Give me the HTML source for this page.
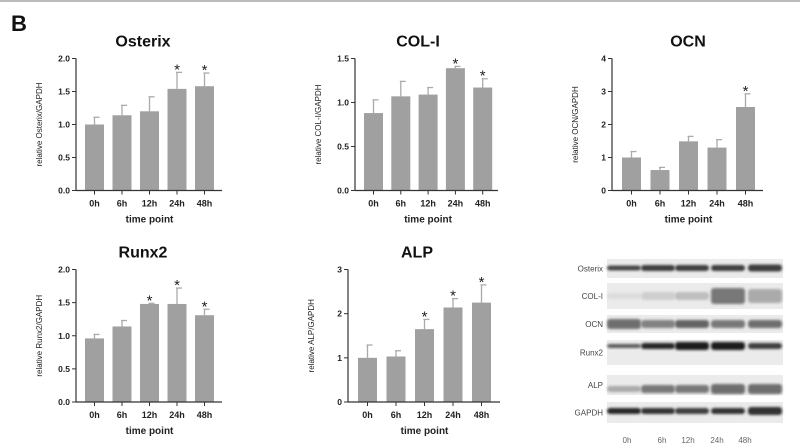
<!DOCTYPE html>
<html><head><meta charset="utf-8"><style>
html,body{margin:0;padding:0;background:#fff;}
svg{display:block;font-family:"Liberation Sans",Arial,sans-serif;}
</style></head><body>
<svg id="s" width="800" height="447" viewBox="0 0 800 447" xmlns="http://www.w3.org/2000/svg">
<defs>
<filter id="bl" x="-20%" y="-50%" width="140%" height="200%"><feGaussianBlur stdDeviation="1.3"/></filter>
</defs>
<line x1="0" y1="1" x2="800" y2="1" stroke="#bbb" stroke-width="2"/>
<text x="11" y="31" font-size="22" font-weight="bold" fill="#111">B</text>
</svg>
<script>
const s=document.getElementById('s');
const NS='http://www.w3.org/2000/svg';
function el(t,a,txt){const e=document.createElementNS(NS,t);for(const k in a)e.setAttribute(k,a[k]);if(txt!==undefined)e.textContent=txt;s.appendChild(e);return e;}
function chart(o){
 const {ax,yTop,y0,xEnd,max,ticks,fmt,vals,errs,stars,title,ylab,b0,sp,tx}=o;
 const sc=(y0-yTop)/max;
 el('text',{x:tx,y:yTop-12,'font-size':16,'font-weight':'bold','text-anchor':'middle',fill:'#111'},title);
 vals.forEach((v,i)=>{
  const x=b0+i*sp, w=19, top=y0-v*sc, et=y0-(v+errs[i])*sc, cx=x+w/2;
  el('line',{x1:cx,y1:top,x2:cx,y2:et,stroke:'#aaa','stroke-width':1.3});
  el('line',{x1:cx-1,y1:et,x2:cx+5,y2:et,stroke:'#aaa','stroke-width':1.3});
  el('rect',{x:x,y:top,width:w,height:y0-top,fill:'#a0a0a0'});
  if(stars[i])el('text',{x:cx,y:et+2,'font-size':15,'text-anchor':'middle',fill:'#222'},'*');
  el('line',{x1:cx,y1:y0,x2:cx,y2:y0+4,stroke:'#333','stroke-width':1});
  el('text',{x:cx,y:y0+16,'font-size':9,'font-weight':'bold','text-anchor':'middle',fill:'#222'},['0h','6h','12h','24h','48h'][i]);
 });
 el('line',{x1:ax,y1:yTop,x2:ax,y2:y0,stroke:'#333','stroke-width':1.2});
 el('line',{x1:ax,y1:y0,x2:xEnd,y2:y0,stroke:'#333','stroke-width':1.2});
 ticks.forEach(t=>{const y=y0-t*sc;
  el('line',{x1:ax-4,y1:y,x2:ax,y2:y,stroke:'#333','stroke-width':1});
  el('text',{x:ax-6,y:y+3,'font-size':8.5,'font-weight':'bold','text-anchor':'end',fill:'#222'},t.toFixed(fmt));});
 const my=(yTop+y0)/2;
 el('text',{x:ax-34,y:my,'font-size':8,'text-anchor':'middle',fill:'#222',transform:`rotate(-90 ${ax-34} ${my})`},ylab);
 el('text',{x:b0+2*sp+9.5,y:y0+32,'font-size':10,'font-weight':'bold','text-anchor':'middle',fill:'#222'},'time point');
}
chart({ax:76,yTop:58.5,y0:190.5,xEnd:222,max:2,ticks:[0,0.5,1,1.5,2],fmt:1,vals:[1,1.14,1.2,1.54,1.58],errs:[.11,.15,.22,.25,.2],stars:[0,0,0,1,1],title:'Osterix',ylab:'relative Osterix/GAPDH',b0:85,sp:27.5,tx:143});
chart({ax:355,yTop:58.5,y0:190.5,xEnd:498,max:1.5,ticks:[0,0.5,1,1.5],fmt:1,vals:[.88,1.07,1.09,1.39,1.17],errs:[.15,.17,.08,.02,.1],stars:[0,0,0,1,1],title:'COL-I',ylab:'relative COL-I/GAPDH',b0:364,sp:27.3,tx:418});
chart({ax:612,yTop:58.5,y0:190.5,xEnd:763,max:4,ticks:[0,1,2,3,4],fmt:0,vals:[1,.62,1.49,1.3,2.53],errs:[.18,.08,.15,.24,.4],stars:[0,0,0,0,1],title:'OCN',ylab:'relative OCN/GAPDH',b0:622,sp:28.5,tx:688});
chart({ax:76,yTop:269.5,y0:402,xEnd:222,max:2,ticks:[0,0.5,1,1.5,2],fmt:1,vals:[.96,1.14,1.48,1.48,1.31],errs:[.06,.09,.01,.24,.09],stars:[0,0,1,1,1],title:'Runx2',ylab:'relative Runx2/GAPDH',b0:85,sp:27.5,tx:143});
chart({ax:348,yTop:269.5,y0:402,xEnd:500,max:3,ticks:[0,1,2,3],fmt:0,vals:[1,1.03,1.65,2.14,2.25],errs:[.29,.13,.22,.2,.4],stars:[0,0,1,1,1],title:'ALP',ylab:'relative ALP/GAPDH',b0:358,sp:28.5,tx:417});
const rows=[
 ['Osterix',259,278,[[624,.8,2.5],[658,.85,3],[692,.85,3],[728,.85,3],[765,.85,3.5]],268],
 ['COL-I',283,309,[[624,.05,3],[658,.12,4],[692,.2,4],[728,.55,8],[765,.3,7]],296],
 ['OCN',315,333,[[624,.6,5],[658,.5,4],[692,.65,4],[728,.55,4],[765,.6,4]],324],
 ['Runx2',340,365,[[624,.7,2],[658,.95,3],[692,1,4],[728,1,4],[765,.85,3]],346],
 ['ALP',375,395,[[624,.3,3],[658,.55,4],[692,.55,4],[728,.6,5],[765,.6,5]],389],
 ['GAPDH',402,423,[[624,.95,3],[658,.9,3],[692,.85,3],[728,.9,3],[765,.9,4]],411]
];
rows.forEach(r=>{
 const [n,y1,y2,bands,by]=r;
 el('rect',{x:607,y:y1,width:176,height:y2-y1,fill:'#ebebeb'});
 el('text',{x:603,y:(y1+y2)/2+3,'font-size':8,'text-anchor':'end',fill:'#444'},n);
 bands.forEach(b=>{const g=Math.round(230-b[1]*200);
  el('rect',{x:b[0]-17,y:by-b[2],width:34,height:b[2]*2,rx:3,fill:`rgb(${g},${g},${g})`,filter:'url(#bl)'});});
});
['0h','6h','12h','24h','48h'].forEach((t,i)=>el('text',{x:[627,662,688,717,745][i],y:443,'font-size':8,'text-anchor':'middle',fill:'#666'},t));
</script>
</body></html>
